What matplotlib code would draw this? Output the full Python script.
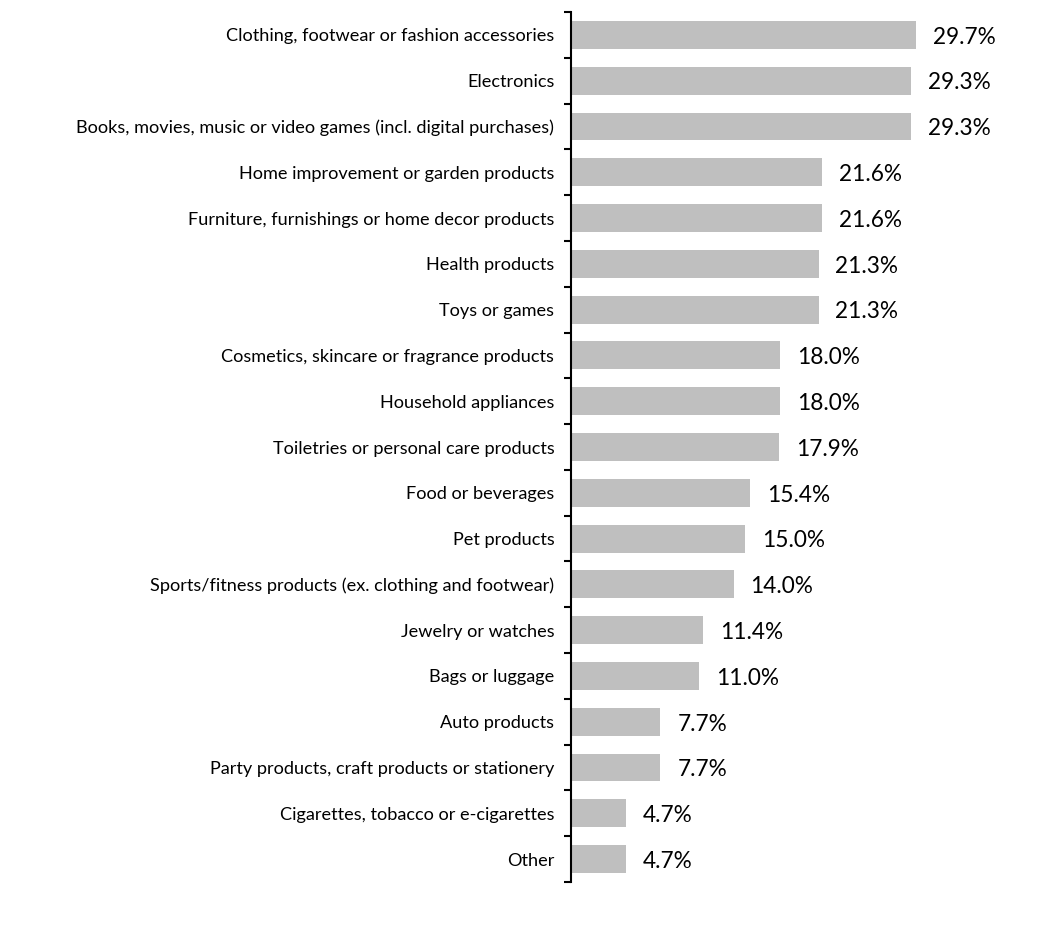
import matplotlib.pyplot as plt
import numpy as np

# Categorias y valores (%)
categories = [
    "Clothing, footwear or fashion accessories",
    "Electronics",
    "Books, movies, music or video games (incl. digital purchases)",
    "Home improvement or garden products",
    "Furniture, furnishings or home decor products",
    "Health products",
    "Toys or games",
    "Cosmetics, skincare or fragrance products",
    "Household appliances",
    "Toiletries or personal care products",
    "Food or beverages",
    "Pet products",
    "Sports/fitness products (ex. clothing and footwear)",
    "Jewelry or watches",
    "Bags or luggage",
    "Auto products",
    "Party products, craft products or stationery",
    "Cigarettes, tobacco or e-cigarettes",
    "Other",
]
values = [29.7, 29.3, 29.3, 21.6, 21.6, 21.3, 21.3, 18.0, 18.0, 17.9,
          15.4, 15.0, 14.0, 11.4, 11.0, 7.7, 7.7, 4.7, 4.7]

plt.rcParams['font.family'] = ['Lato', 'DejaVu Sans']

W, H = 1061, 927
fig = plt.figure(figsize=(W / 100, H / 100), dpi=100)
left, right, top, bottom = 571, 1040, 12, 882
ax = fig.add_axes([left / W, 1 - bottom / H, (right - left) / W, (bottom - top) / H])

n = len(categories)
y = np.arange(n)
ax.barh(y, values, height=0.61, color='#bfbfbf')
ax.set_ylim(n - 0.5, -0.5)
ax.set_xlim(0, (right - left) / 11.62)

# etiquetas de valor a la derecha de cada barra
for yi, v in zip(y, values):
    ax.text(v + 1.45, yi + 0.05, f"{v:.1f}%", va='center', ha='left', fontsize=16.3, color='black')

ax.set_yticks(y)
ax.set_yticklabels(categories, fontsize=13.1)
ax.tick_params(axis='y', which='major', length=0, pad=12)
ax.set_yticks(np.arange(-0.5, n, 1), minor=True)
ax.tick_params(axis='y', which='minor', length=5, width=1.5, direction='out')
ax.set_xticks([])
for s in ['top', 'right', 'bottom']:
    ax.spines[s].set_visible(False)
ax.spines['left'].set_linewidth(1.5)

fig.savefig('out.png', dpi=100)
